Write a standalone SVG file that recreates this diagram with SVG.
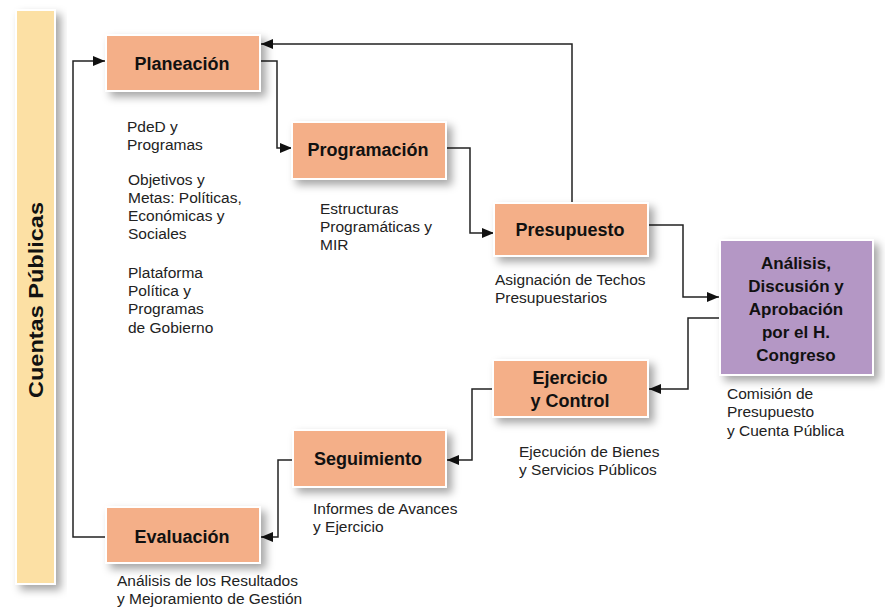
<svg xmlns="http://www.w3.org/2000/svg" width="885" height="610" viewBox="0 0 885 610">
<style>
.box{fill:#F4AF88;stroke:#FFFFFF;stroke-width:2;filter:url(#sh)}
.purple{fill:#B497C5;stroke:#FFFFFF;stroke-width:2;filter:url(#sh)}
.bar{fill:#FCE0A4;stroke:#FFFFFF;stroke-width:2;filter:url(#sh)}
.lbl{font-family:"Liberation Sans",Arial,sans-serif;font-weight:bold;font-size:18px;fill:#111;text-anchor:middle}
.lbl2{font-family:"Liberation Sans",Arial,sans-serif;font-weight:bold;font-size:17px;fill:#111;text-anchor:middle}
.note{font-family:"Liberation Sans",Arial,sans-serif;font-size:15.5px;fill:#222}
.con{fill:none;stroke:#222;stroke-width:1.5}
</style>
<defs>
<filter id="sh" x="-20%" y="-20%" width="150%" height="160%">
<feDropShadow dx="5" dy="5" stdDeviation="4" flood-color="#000" flood-opacity="0.35"/>
</filter>
<marker id="ar" markerUnits="userSpaceOnUse" markerWidth="12" markerHeight="10" refX="12" refY="5" orient="auto">
<path d="M0,0 L12,5 L0,10 z" fill="#111"/>
</marker>
</defs>
<rect width="885" height="610" fill="#FFFFFF"/>
<g id="cuentas">
<rect class="bar" x="16" y="10" width="39" height="574"/>
<text class="lbl" transform="translate(43,300) rotate(-90)" style="font-size:21px" textLength="196" lengthAdjust="spacingAndGlyphs">Cuentas Públicas</text>
</g>
<g id="connectors">
<path class="con" d="M105,537 H73 V61 H105" marker-end="url(#ar)"/>
<path class="con" d="M260,61 H277 V148 H292" marker-end="url(#ar)"/>
<path class="con" d="M446,148 H470 V233 H494" marker-end="url(#ar)"/>
<path class="con" d="M572,203 V44 H261" marker-end="url(#ar)"/>
<path class="con" d="M648,225 H683 V297 H719" marker-end="url(#ar)"/>
<path class="con" d="M720,318 H688 V389 H649" marker-end="url(#ar)"/>
<path class="con" d="M493,389 H472 V460 H447" marker-end="url(#ar)"/>
<path class="con" d="M293,460 H278 V537 H261" marker-end="url(#ar)"/>
</g>
<g id="planeacion">
<rect class="box" x="106" y="35" width="154" height="56"/>
<text class="lbl" x="182" y="70">Planeación</text>
</g>
<g id="programacion">
<rect class="box" x="292" y="122" width="154" height="57"/>
<text class="lbl" x="368" y="156">Programación</text>
</g>
<g id="presupuesto">
<rect class="box" x="494" y="203" width="154" height="53"/>
<text class="lbl" x="570" y="236">Presupuesto</text>
</g>
<g id="analisis">
<rect class="purple" x="720" y="240" width="153" height="135"/>
<text class="lbl2" x="796" y="269">Análisis,</text>
<text class="lbl2" x="796" y="292">Discusión y</text>
<text class="lbl2" x="796" y="315">Aprobación</text>
<text class="lbl2" x="796" y="338">por el H.</text>
<text class="lbl2" x="796" y="361">Congreso</text>
</g>
<g id="ejercicio">
<rect class="box" x="493" y="360" width="155" height="57"/>
<text class="lbl" x="570" y="384">Ejercicio</text>
<text class="lbl" x="570" y="407">y Control</text>
</g>
<g id="seguimiento">
<rect class="box" x="293" y="430" width="153" height="57"/>
<text class="lbl" x="368" y="465">Seguimiento</text>
</g>
<g id="evaluacion">
<rect class="box" x="106" y="507" width="154" height="56"/>
<text class="lbl" x="182" y="543">Evaluación</text>
</g>
<g id="notes">
<text class="note" x="127" y="132">PdeD y</text>
<text class="note" x="127" y="150">Programas</text>
<text class="note" x="128" y="185">Objetivos y</text>
<text class="note" x="128" y="203">Metas: Políticas,</text>
<text class="note" x="128" y="221">Económicas y</text>
<text class="note" x="128" y="239">Sociales</text>
<text class="note" x="128" y="278">Plataforma</text>
<text class="note" x="128" y="296">Política y</text>
<text class="note" x="128" y="314">Programas</text>
<text class="note" x="128" y="333">de Gobierno</text>
<text class="note" x="320" y="214">Estructuras</text>
<text class="note" x="320" y="232">Programáticas y</text>
<text class="note" x="320" y="250">MIR</text>
<text class="note" x="495" y="285">Asignación de Techos</text>
<text class="note" x="495" y="303">Presupuestarios</text>
<text class="note" x="727" y="399">Comisión de</text>
<text class="note" x="727" y="417">Presupuesto</text>
<text class="note" x="727" y="436">y Cuenta Pública</text>
<text class="note" x="519" y="457">Ejecución de Bienes</text>
<text class="note" x="519" y="475">y Servicios Públicos</text>
<text class="note" x="313" y="514">Informes de Avances</text>
<text class="note" x="313" y="532">y Ejercicio</text>
<text class="note" x="117" y="586">Análisis de los Resultados</text>
<text class="note" x="117" y="604">y Mejoramiento de Gestión</text>
</g>
</svg>
